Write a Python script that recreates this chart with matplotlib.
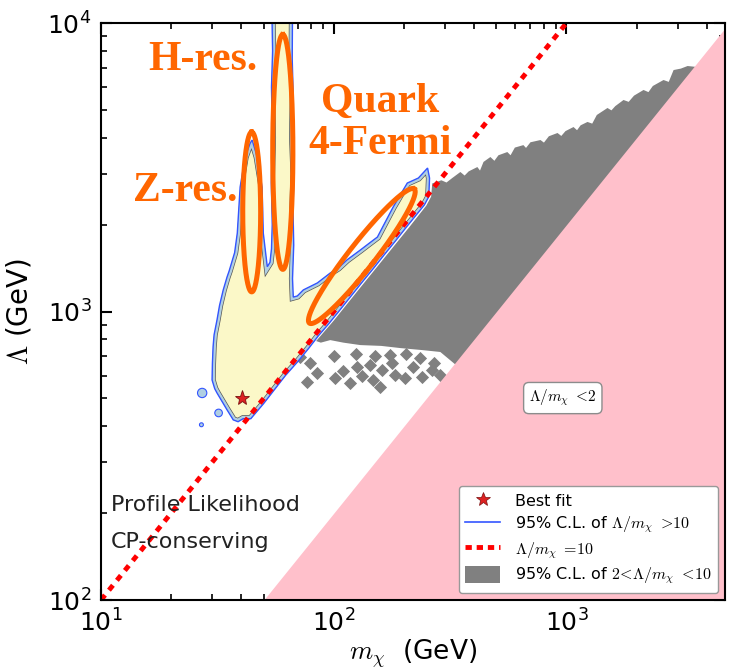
import numpy as np
import matplotlib.pyplot as plt
from matplotlib.patches import Polygon, Patch
from matplotlib.lines import Line2D

plt.rcParams['mathtext.fontset'] = 'cm'

# outer 95% C.L. contour for Lambda/m > 10  (m_chi, Lambda) in GeV
cl_m = [40.8, 44, 50, 56, 62, 70, 78, 86, 95, 105, 118, 132, 148, 165, 185, 205, 225, 245, 256,
        258, 253, 231, 207, 193, 180, 166.5, 154, 140.6, 130, 114, 104.5, 96.6, 85, 74, 69.7, 67,
        66.5, 67.3, 66.8, 67.5, 66.6, 67, 66.3, 66.5,
        54.2, 54.6, 54, 54.5, 53.9, 54.4, 54, 53.2,
        51.8, 50.5, 49.8, 49.2, 46.9, 44.6, 43.7, 41.6, 39.6, 38.5, 37.5, 35.5, 34.8, 33.5, 32.3,
        31.5, 30.6, 30.3, 30.1, 30, 30.8, 31.5, 33, 34.8, 37, 38.8]
cl_lam = [425, 425, 480, 540, 600, 670, 745, 825, 905, 1000, 1125, 1260, 1410, 1575, 1765, 1960, 2150, 2340, 2500,
          2900, 3143, 2902, 2788, 2535, 2302, 2043, 1812, 1714, 1633, 1510, 1415, 1360, 1256, 1188, 1132, 1122,
          1300, 1700, 2300, 3000, 4000, 5500, 7500, 11000,
          11000, 8000, 6000, 4000, 2800, 2000, 1650, 1480,
          1430, 1700, 1870, 2700, 3430, 3930, 3830, 3430, 2700, 1870, 1600, 1380, 1318, 1188, 1050,
          935, 830, 754, 660, 579, 540, 522, 490, 456, 421, 415]

# small isolated islands of the same contour
island_m = [27.2, 32.0, 27.0]
island_lam = [522, 445, 405]

# 95% C.L. region for 2 < Lambda/m < 10
grey_m = [84, 100, 130, 170, 210, 250, 262, 265,
          290, 305, 323, 350, 365, 380, 414, 425, 440, 471, 490, 510, 557, 575, 600, 653, 670, 700,
          773, 800, 840, 915, 950, 990, 1072, 1110, 1150, 1231, 1290, 1350, 1500, 1560, 1620, 1758,
          1850, 1950, 2143, 2250, 2350, 2612, 2750, 2885, 3100, 3314,
          3700, 340, 287, 240, 193, 160, 130, 110, 96.6, 88]
grey_lam = [790, 930, 1210, 1580, 1950, 2330, 2500, 2780,
            2850, 2800, 2902, 3045, 2960, 3060, 3168, 3080, 3300, 3432, 3330, 3480, 3571, 3480, 3700, 3774, 3690, 3860,
            3930, 3850, 4050, 4157, 4060, 4220, 4360, 4250, 4420, 4540, 4480, 4800, 5075, 4980, 5150, 5410,
            5330, 5600, 5860, 5760, 6050, 6345, 6250, 6870, 6950, 7095,
            7030, 646, 724, 735, 747, 760, 765, 780, 796, 780]

# scattered grey points below the solid region
spot_m = [71.7, 76.9, 79.2, 84.9, 101.4, 109.9, 117.8, 126.2, 132.7, 143.6, 147.9, 158.5,
          161.8, 178.5, 184, 203, 220, 240, 265, 287, 100, 125, 150, 175, 205, 235, 270]
spot_lam = [695, 570, 663, 612, 588, 622, 565, 642, 598, 653, 579, 547,
            627, 663, 603, 588, 642, 593, 627, 603, 700, 712, 700, 705, 712, 690, 665]

best_m, best_lam = [40.4], [501]

ratio_ref = 10     # Lambda/m = 10 line
ratio_low = 2      # Lambda/m < 2 excluded
ref_m = np.array([10, 1000])
pink_m = np.array([50, 4800])

# orange annotation ellipses: centre (m, Lambda), semi-axes in decades of Lambda, angle on screen
ell_c_m = [44.4, 60.4, 132]
ell_c_lam = [2213, 3573, 1557]
ell_a = [0.277, 0.407, 0.295]
ell_b = [0.031, 0.035, 0.045]
ell_ang = [90, 90, 52]

fig = plt.figure(figsize=(7.3, 6.71), dpi=100)
ax = fig.add_axes([0.1384, 0.1058, 0.8548, 0.8599])
ax.set_xscale('log')
ax.set_yscale('log')
ax.set_xlim(10, 4800)
ax.set_ylim(100, 1e4)

ax.fill_between(pink_m, ratio_low * pink_m, 100, color='pink', lw=0, zorder=3)

ax.add_patch(Polygon(np.column_stack([grey_m, grey_lam]), closed=True, fc='#808080', ec='none', zorder=2))
ax.scatter(spot_m, spot_lam, marker='D', s=45, color='#808080', lw=0, zorder=2)

# contour: yellow inside, light blue band, blue outer line
verts = np.column_stack([cl_m, cl_lam])
fill = Polygon(verts, closed=True, fc='#fbf8c8', ec='none', zorder=4)
ax.add_patch(fill)
band1 = Polygon(verts, closed=True, fc='none', ec='#555555', lw=5.2, zorder=4.1)
ax.add_patch(band1)
band1.set_clip_path(fill)
band2 = Polygon(verts, closed=True, fc='none', ec='#b0cfe2', lw=4.2, zorder=4.2)
ax.add_patch(band2)
band2.set_clip_path(fill)
ax.add_patch(Polygon(verts, closed=True, fc='none', ec='#3355ff', lw=1.0, zorder=4.3))
ax.scatter(island_m, island_lam, s=[45, 30, 8], fc='#b0cfe2', ec='#3355ff', lw=0.8, zorder=4.3)

ax.plot(ref_m, ratio_ref * ref_m, color='red', lw=3.5, ls=(0, (1.3, 1.3)), zorder=5)

# ellipses drawn in log space, corrected for the different decade sizes on the two axes
fig.canvas.draw()
bb = ax.get_window_extent()
px_x = bb.width / np.log10(4800 / 10)
px_y = bb.height / np.log10(1e4 / 100)
t = np.linspace(0, 2 * np.pi, 300)
for cm_, cl_, a, b, ang in zip(ell_c_m, ell_c_lam, ell_a, ell_b, ell_ang):
    th = np.deg2rad(ang)
    u = a * np.cos(t)
    v = b * np.sin(t)
    dx = u * np.cos(th) - v * np.sin(th)
    dy = u * np.sin(th) + v * np.cos(th)
    ax.plot(cm_ * 10 ** (dx * px_y / px_x), cl_ * 10 ** dy, color='#ff6600', lw=3.6, zorder=6)

ax.plot(best_m, best_lam, ls='none', marker='*', ms=11, mfc='#dd2222', mec='#7a1010', mew=0.6, zorder=7)

orange = dict(color='#ff6600', fontsize=30, fontweight='bold', family='Liberation Serif',
              transform=ax.transAxes, ha='center', va='center', zorder=8)
ax.text(0.163, 0.936, 'H-res.', **orange)
ax.text(0.135, 0.709, 'Z-res.', **orange)
ax.text(0.447, 0.827, 'Quark\n4-Fermi', linespacing=1.15, **orange)

ax.text(0.016, 0.165, 'Profile Likelihood', transform=ax.transAxes, fontsize=16,
        color='#222222', va='center', zorder=8)
ax.text(0.016, 0.101, 'CP-conserving', transform=ax.transAxes, fontsize=16,
        color='#222222', va='center', zorder=8)

ax.text(0.74, 0.35, r'$\Lambda/m_\chi\ <\!2$', transform=ax.transAxes, fontsize=11,
        ha='center', va='center', zorder=8,
        bbox=dict(boxstyle='round,pad=0.35', fc='white', ec='0.55', lw=1))

handles = [Line2D([], [], ls='none', marker='*', ms=10, mfc='#dd2222', mec='#7a1010', mew=0.5),
           Line2D([], [], color='#3355ff', lw=1.2),
           Line2D([], [], color='red', lw=3.5, ls=(0, (1.3, 1.0))),
           Patch(fc='#808080', ec='none')]
labels = ['Best fit', r'95% C.L. of $\Lambda/m_\chi\ >\!10$', r'$\Lambda/m_\chi\ =\!10$',
          r'95% C.L. of $2\!<\!\Lambda/m_\chi\ <\!10$']
leg = ax.legend(handles, labels, loc='lower right', fontsize=11.5, handlelength=2.2,
                handleheight=1.3, framealpha=1, edgecolor='0.6', fancybox=True,
                borderaxespad=0.45, labelspacing=0.3, borderpad=0.4, handletextpad=0.9)
leg.set_zorder(9)

ax.tick_params(which='both', direction='in', top=True, right=True, labelsize=18)
ax.tick_params(which='major', length=8, width=1.5, pad=7)
ax.tick_params(which='minor', length=4, width=1.2)
for s in ax.spines.values():
    s.set_linewidth(1.5)
    s.set_zorder(10)

ax.set_xlabel(r'$m_\chi$  (GeV)', fontsize=19, labelpad=0)
ax.set_ylabel(r'$\Lambda$ (GeV)', fontsize=20, labelpad=10)

fig.savefig('out.png', dpi=100)
